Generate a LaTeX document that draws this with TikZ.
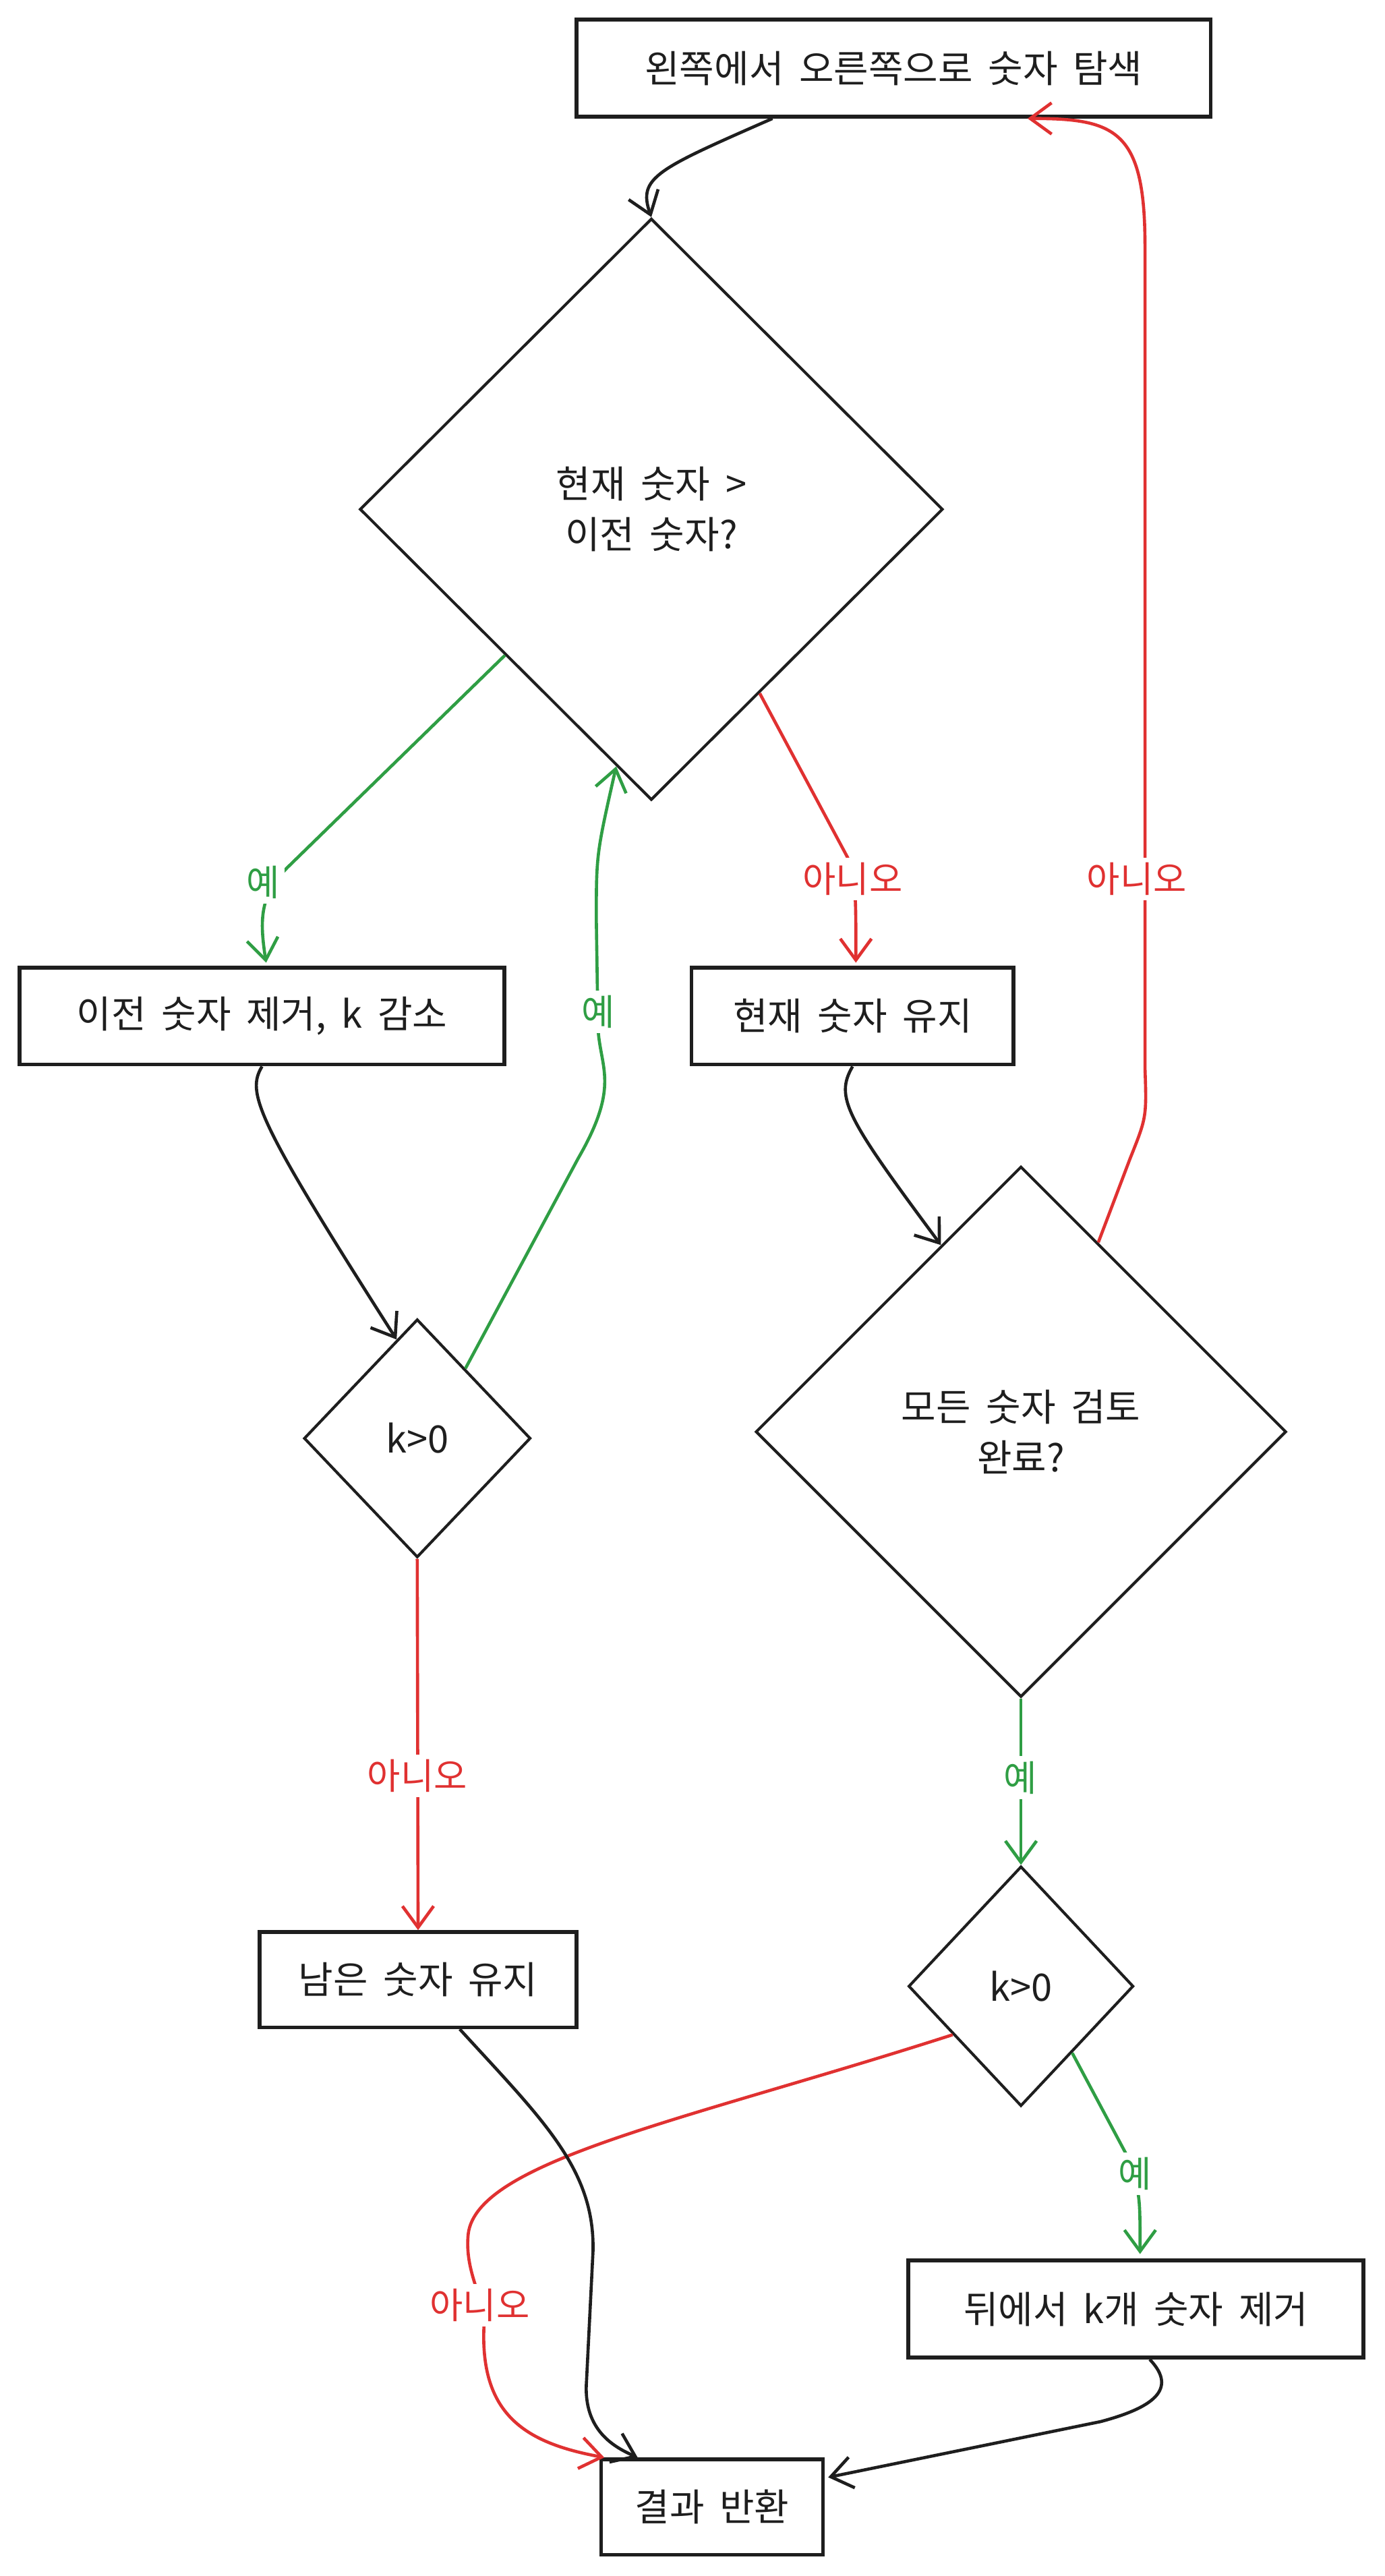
\documentclass[tikz,border=0pt]{standalone}
\usepackage{fontspec}
\setmainfont{Noto Sans CJK KR}[WordSpace=1.8]
\usetikzlibrary{shapes.geometric,arrows.meta,calc}
\definecolor{ink}{HTML}{1E1E1E}
\definecolor{rd}{HTML}{E03131}
\definecolor{gr}{HTML}{2F9E44}
\begin{document}
\begin{tikzpicture}[x=1pt,y=-1pt,
  box/.style={draw=ink, line width=2.3pt, rectangle, inner sep=0pt, text=ink, font=\fontsize{23}{28}\selectfont},
  dia/.style={draw=ink, line width=1.7pt, diamond, inner sep=0pt, text=ink, align=center, font=\fontsize{23}{31}\selectfont},
  arr/.style={line width=1.9pt, -{Straight Barb[length=13pt,width=19pt,line width=1.9pt]}},
  lbl/.style={fill=white, inner sep=3pt, font=\fontsize{22}{26}\selectfont}]
\path[use as bounding box] (0,0) rectangle (843,1568);
% nodes
\node[box, minimum width=386pt, minimum height=59pt] (top) at (544,41.5) {왼쪽에서 오른쪽으로 숫자 탐색};
\node[dia, minimum width=355pt, minimum height=354pt] (d1) at (396.5,310) {현재 숫자 >\\ 이전 숫자?};
\node[box, minimum width=295pt, minimum height=59pt] (b1) at (159.5,618.5) {이전 숫자 제거, k 감소};
\node[box, minimum width=196pt, minimum height=59pt] (b2) at (519,618.5) {현재 숫자 유지};
\node[dia, minimum width=138pt, minimum height=145pt] (d2) at (254,875.5) {k>0};
\node[dia, minimum width=323pt, minimum height=323pt] (d3) at (621.5,871.5) {모든 숫자 검토\\완료?};
\node[box, minimum width=193pt, minimum height=58pt] (b3) at (254.5,1205) {남은 숫자 유지};
\node[dia, minimum width=137pt, minimum height=146pt] (d4) at (621.5,1209) {k>0};
\node[box, minimum width=277pt, minimum height=59pt] (b4) at (691.5,1405.5) {뒤에서 k개 숫자 제거};
\node[box, minimum width=135pt, minimum height=58pt] (b5) at (433.5,1526) {결과 반환};
% connectors
\draw[arr, ink] ($(top.south west)!0.31!(top.south east)$) .. controls (400,103) and (388,108) .. (d1.north);
\draw[arr, gr] ($(d1.west)!0.5!(d1.south)$) -- (175,528) .. controls (158,545) and (158,560) .. (162,586);
\node[lbl, text=gr] (l1) at (160,537) {예};
\draw[arr, rd] ($(d1.south)!0.37!(d1.east)$) -- (516,522) .. controls (521,540) .. (521,586);
\node[lbl, text=rd] (l2) at (519,535) {아니오};
\draw[arr, ink] (b1.south) .. controls (150,665) and (155,680) .. ($(d2.north)!0.18!(d2.west)$);
\draw[arr, gr] ($(d2.north)!0.42!(d2.east)$) -- (352,705) .. controls (378,660) and (365,650) .. (364,625) -- (363,560) .. controls (363,520) .. ($(d1.south)!0.12!(d1.west)$);
\node[lbl, text=gr] (l3) at (364,616) {예};
\draw[arr, rd] (d2.south) -- (b3.north);
\node[lbl, text=rd] (l4) at (254,1081) {아니오};
\draw[arr, ink] (b2.south) .. controls (508,668) and (515,680) .. ($(d3.north)!0.3!(d3.west)$);
\draw[arr, rd] ($(d3.north)!0.29!(d3.east)$) -- (688,705) .. controls (698,680) .. (697,650) -- (697,150) .. controls (697,80) and (680,72) .. ($(top.south west)!0.71!(top.south east)$);
\node[lbl, text=rd] (l5) at (692,535) {아니오};
\draw[arr, gr] (d3.south) -- (d4.north);
\node[lbl, text=gr] (l6) at (621,1082) {예};
\draw[arr, gr] ($(d4.south)!0.45!(d4.east)$) -- (686,1312) .. controls (694,1335) .. (694,1372);
\node[lbl, text=gr] (l7) at (691,1323) {예};
\draw[arr, rd] ($(d4.west)!0.4!(d4.south)$) .. controls (420,1290) and (290,1315) .. (285,1360) .. controls (283,1380) and (292,1395) .. (295,1410) .. controls (290,1470) and (320,1487) .. ($(b5.north west)+(3,0)$);
\node[lbl, text=rd] (l8) at (292,1403) {아니오};
\draw[arr, ink] ($(b3.south west)!0.63!(b3.south east)$) .. controls (330,1290) and (362,1320) .. (361,1370) -- (357,1450) .. controls (355,1480) and (375,1490) .. ($(b5.north west)!0.17!(b5.north east)$);
\draw[arr, ink] ($(b4.south west)!0.53!(b4.south east)$) .. controls (718,1455) and (700,1466) .. (670,1474) -- ($(b5.north east)!0.2!(b5.south east)+(2,0)$);
\end{tikzpicture}
\end{document}
